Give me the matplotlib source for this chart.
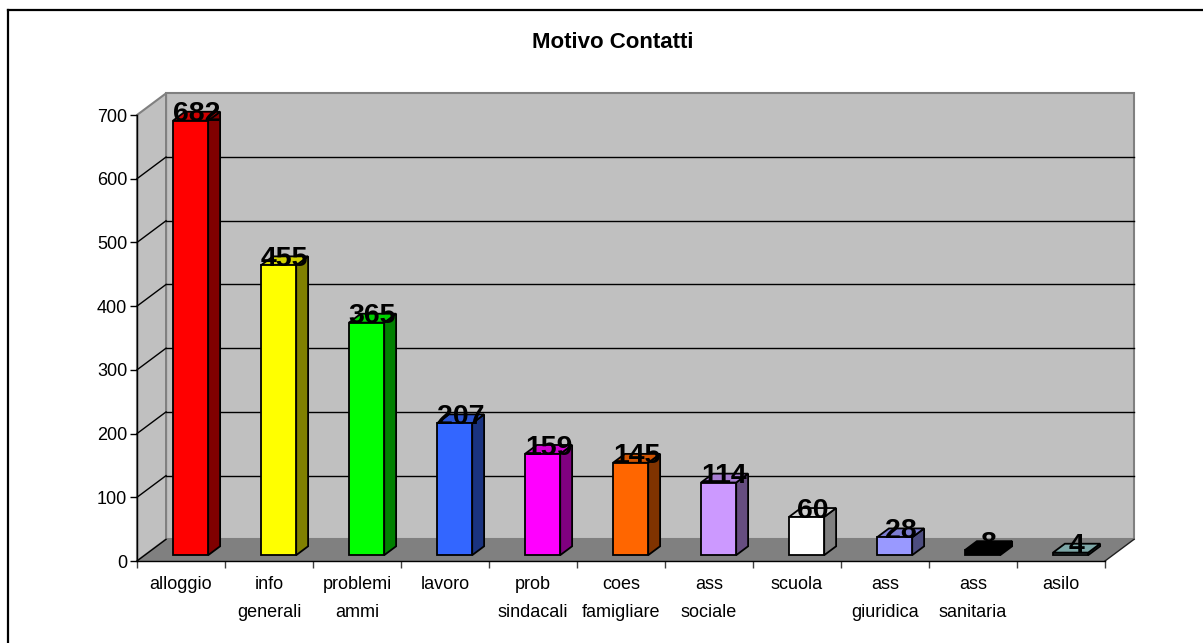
import matplotlib
matplotlib.use("Agg")
import matplotlib.pyplot as plt
from matplotlib.patches import Polygon
from matplotlib.lines import Line2D
from matplotlib.colors import to_rgb

plt.rcParams['font.family'] = ['Liberation Sans', 'DejaVu Sans']

# ---- data ----
categories = ['alloggio', 'info\ngenerali', 'problemi\nammi', 'lavoro',
              'prob\nsindacali', 'coes\nfamigliare', 'ass\nsociale', 'scuola',
              'ass\ngiuridica', 'ass\nsanitaria', 'asilo']
values = [682, 455, 365, 207, 159, 145, 114, 60, 28, 8, 4]
bar_colors = ['#FF0000', '#FFFF00', '#00FF00', '#3366FF', '#FF00FF', '#FF6600',
              '#CC99FF', '#FFFFFF', '#9999FF', '#000000', '#99CCCC']
y_ticks = [0, 100, 200, 300, 400, 500, 600, 700]
title = 'Motivo Contatti'

# ---- pseudo-3D geometry (data units) ----
DX = 0.33      # depth shift along x (category units)
DY = 34.0      # depth shift along y (value units)
F0, F1 = 0.27, 0.68   # bar depth span as fraction of floor depth
BAR_W = 0.40
YMAX = 700
N = len(categories)
X0, X1 = -0.5, N - 0.5

WALL = '#C0C0C0'
FLOOR = '#808080'
EDGE = '#808080'


def shade(c, f):
    r, g, b = to_rgb(c)
    return (r * f, g * f, b * f)


fig = plt.figure(figsize=(12.03, 6.43), dpi=100)
W, H = 1203, 643
ax = fig.add_axes([137 / W, 82 / H, 968 / W, 446 / H])
ax.set_xlim(X0, X1)
ax.set_ylim(0, YMAX)
ax.patch.set_visible(False)

# walls and floor
back = Polygon([(X0 + DX, DY), (X1 + DX, DY), (X1 + DX, YMAX + DY), (X0 + DX, YMAX + DY)],
               closed=True, facecolor=WALL, edgecolor=EDGE, lw=1.5, zorder=0, clip_on=False)
side = Polygon([(X0, 0), (X0 + DX, DY), (X0 + DX, YMAX + DY), (X0, YMAX)],
               closed=True, facecolor=WALL, edgecolor=EDGE, lw=1.5, zorder=0, clip_on=False)
floor = Polygon([(X0, 0), (X1, 0), (X1 + DX, DY), (X0 + DX, DY)],
                closed=True, facecolor=FLOOR, edgecolor='none', zorder=1, clip_on=False)
for p in (back, side, floor):
    ax.add_patch(p)

# gridlines on the walls
for v in y_ticks[1:-1]:
    ax.add_line(Line2D([X0 + DX, X1 + DX], [v + DY, v + DY], color='black', lw=1.0,
                       zorder=0.5, clip_on=False))
for v in y_ticks[:-1]:
    ax.add_line(Line2D([X0, X0 + DX], [v, v + DY], color='black', lw=1.0,
                       zorder=1.5, clip_on=False))
ax.add_line(Line2D([X1, X1 + DX], [0, DY], color='#202020', lw=1.0, zorder=1.5, clip_on=False))

# bars: front faces through ax.bar, side and top faces as polygons
xs = list(range(N))
front_x = [x + F0 * DX + 0.02 for x in xs]
bottom = F0 * DY
ax.bar(front_x, values, width=BAR_W, bottom=bottom, color=bar_colors,
       edgecolor='black', linewidth=1.3, zorder=4, clip_on=False)

d = F1 - F0
for x, v, c in zip(front_x, values, bar_colors):
    xl, xr = x - BAR_W / 2, x + BAR_W / 2
    y0, y1 = bottom, bottom + v
    side_face = Polygon([(xr, y0), (xr + d * DX, y0 + d * DY), (xr + d * DX, y1 + d * DY), (xr, y1)],
                        closed=True, facecolor=shade(c, 0.5), edgecolor='black', lw=1.3,
                        zorder=3, clip_on=False)
    top_face = Polygon([(xl, y1), (xr, y1), (xr + d * DX, y1 + d * DY), (xl + d * DX, y1 + d * DY)],
                       closed=True, facecolor=shade(c, 0.82), edgecolor='black', lw=1.3,
                       zorder=3, clip_on=False)
    ax.add_patch(side_face)
    ax.add_patch(top_face)

# value labels
for x, v in zip(front_x, values):
    ax.text(x + d / 2 * DX, v + F1 * DY - 4, str(v), ha='center', va='center',
            fontsize=20.5, fontweight='bold', color='black', zorder=6, clip_on=False)

# axes, ticks and labels
for s in ('top', 'right'):
    ax.spines[s].set_visible(False)
for s in ('left', 'bottom'):
    ax.spines[s].set_color('black')
    ax.spines[s].set_linewidth(1.0)
    ax.spines[s].set_zorder(5)

ax.set_yticks(y_ticks)
ax.set_yticklabels([str(t) for t in y_ticks], fontsize=13)
ax.tick_params(axis='y', direction='out', length=5, width=1.0, pad=2, color='black')

ax.set_xticks(xs)
ax.set_xticklabels(categories, fontsize=13, linespacing=1.85, va='top')
ax.set_xticks([i - 0.5 for i in range(N + 1)], minor=True)
ax.tick_params(axis='x', which='major', length=0, pad=11)
ax.tick_params(axis='x', which='minor', direction='out', length=5, width=1.0, color='#404040')

fig.text(613 / W, 1 - 42 / H, title, ha='center', va='center', fontsize=16, fontweight='bold')

# chart-area border (top and left edges)
fig.add_artist(Line2D([7.5 / W, 7.5 / W], [0, 1 - 9.5 / H], transform=fig.transFigure,
                      color='black', lw=1.6))
fig.add_artist(Line2D([7.5 / W, 1], [1 - 9.5 / H, 1 - 9.5 / H], transform=fig.transFigure,
                      color='black', lw=1.6))

fig.savefig('out.png', dpi=100, facecolor='white')
